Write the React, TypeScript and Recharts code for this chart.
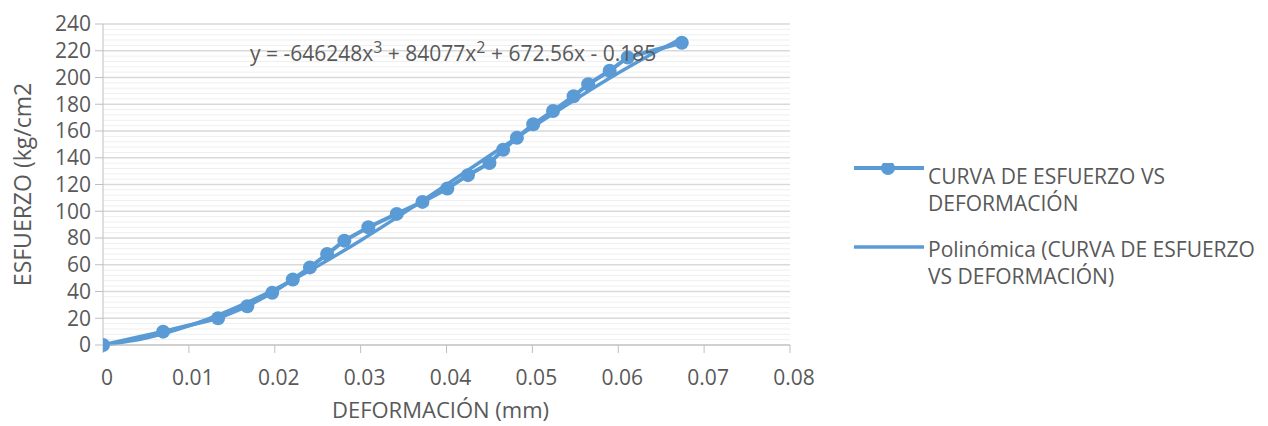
import React from 'react';
import { LineChart, Line, XAxis, YAxis, CartesianGrid, Label } from 'recharts';

// measured points (deformación mm, esfuerzo kg/cm2)
const deformacion = [0, 0.007, 0.0134, 0.0168, 0.0197, 0.0221, 0.0241, 0.0261, 0.0281, 0.0309, 0.0342, 0.0372, 0.0401, 0.0425, 0.045, 0.0466, 0.0482, 0.0501, 0.0524, 0.0548, 0.0565, 0.059, 0.0611, 0.0674];
const esfuerzo = [0, 10, 20, 29, 39, 49, 58, 68, 78, 88, 98, 107, 117, 127, 136, 146, 155, 165, 175, 186, 195, 205, 215, 226];

// polynomial trend
const trendX = [0, 0.005, 0.01, 0.015, 0.02, 0.025, 0.03, 0.035, 0.04, 0.045, 0.05, 0.055, 0.06, 0.065, 0.0674];
const trendY = [0, 5.2, 14.3, 26.6, 41.7, 59.1, 78.2, 98.6, 119.9, 141.5, 162.9, 183.6, 203.3, 221.3, 229.2];

const xTicks = [0, 0.01, 0.02, 0.03, 0.04, 0.05, 0.06, 0.07, 0.08];
const yTicks = [0, 20, 40, 60, 80, 100, 120, 140, 160, 180, 200, 220, 240];

const puntos = deformacion.map((x, i) => ({ x, y: esfuerzo[i] }));
const tendencia = trendX.map((x, i) => ({ x, y: trendY[i] }));

const minorTicks: number[] = [];
for (let v = 0; v <= 240; v += 4) if (v % 20 !== 0) minorTicks.push(v);

const BLUE = '#5B9BD5';
const TEXT = '#595959';
const FONT = '"Open Sans", sans-serif';
const FS = 21;

function LegendBox() {
    const row: React.CSSProperties = { display: 'flex', alignItems: 'flex-start', marginBottom: 19 };
    return (
        <div style={{ position: 'absolute', left: 852, top: 163, fontFamily: FONT, fontSize: FS, color: TEXT, lineHeight: '27px' }}>
            <div style={row}>
                <svg width={74} height={27} style={{ flex: 'none' }}>
                    <line x1={2} y1={5} x2={72} y2={5} stroke={BLUE} strokeWidth={4} />
                    <circle cx={36} cy={5} r={7} fill={BLUE} />
                </svg>
                <div style={{ marginLeft: 2 }}>CURVA DE ESFUERZO VS<br />DEFORMACIÓN</div>
            </div>
            <div style={row}>
                <svg width={74} height={27} style={{ flex: 'none' }}>
                    <line x1={2} y1={11} x2={72} y2={11} stroke={BLUE} strokeWidth={3.5} />
                </svg>
                <div style={{ marginLeft: 2 }}>Polinómica (CURVA DE ESFUERZO<br />VS DEFORMACIÓN)</div>
            </div>
        </div>
    );
}

export default function App() {
    return (
        <div style={{ position: 'absolute', left: 0, top: 0, width: 1268, height: 426, background: '#fff' }}>
            <LineChart
                width={1268}
                height={426}
                margin={{ top: 24, right: 478, left: 0, bottom: 0 }}
                style={{ fontFamily: FONT }}
            >
                <CartesianGrid vertical={false} horizontalValues={minorTicks} stroke="#EFEFEF" strokeWidth={1} />
                <CartesianGrid vertical={false} horizontalValues={yTicks} stroke="#D9D9D9" strokeWidth={1.5} />
                <XAxis
                    type="number"
                    dataKey="x"
                    domain={[0, 0.08]}
                    ticks={xTicks}
                    interval={0}
                    allowDataOverflow
                    height={81}
                    tickSize={8}
                    tickMargin={17}
                    stroke="#BFBFBF"
                    fontSize={FS}
                    tick={{ fill: TEXT, fontSize: FS, dx: 4 }}
                >
                    <Label value="DEFORMACIÓN (mm)" position="insideBottom" offset={8} dx={-6} fill={TEXT} fontSize={22} />
                </XAxis>
                <YAxis
                    type="number"
                    dataKey="y"
                    domain={[0, 240]}
                    ticks={yTicks}
                    interval={0}
                    width={103}
                    tickSize={8}
                    tickMargin={4}
                    stroke="#BFBFBF"
                    fontSize={FS}
                    tick={{ fill: TEXT, fontSize: FS }}
                >
                    <Label value="ESFUERZO (kg/cm2" angle={-90} position="center" dx={-29} fill={TEXT} fontSize={23} />
                </YAxis>
                <Line
                    data={tendencia}
                    dataKey="y"
                    name="Polinómica (CURVA DE ESFUERZO VS DEFORMACIÓN)"
                    type="monotone"
                    stroke={BLUE}
                    strokeWidth={3.5}
                    dot={false}
                    activeDot={false}
                    isAnimationActive={false}
                />
                <Line
                    data={puntos}
                    dataKey="y"
                    name="CURVA DE ESFUERZO VS DEFORMACIÓN"
                    type="linear"
                    stroke={BLUE}
                    strokeWidth={4}
                    dot={{ r: 7, fill: BLUE, stroke: BLUE, strokeWidth: 0 }}
                    activeDot={false}
                    isAnimationActive={false}
                />
            </LineChart>
            <LegendBox />
            <div
                style={{
                    position: 'absolute',
                    left: 250,
                    top: 43,
                    fontFamily: FONT,
                    fontSize: FS,
                    lineHeight: '20px',
                    color: TEXT,
                    whiteSpace: 'nowrap',
                    pointerEvents: 'none',
                }}
            >
                y = -646248x<sup style={{ fontSize: 16, lineHeight: 0 }}>3</sup> + 84077x<sup style={{ fontSize: 16, lineHeight: 0 }}>2</sup> + 672.56x - 0.185
            </div>
        </div>
    );
}
